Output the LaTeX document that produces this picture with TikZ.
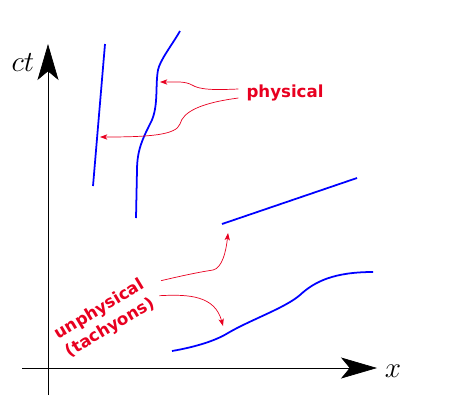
\documentclass[tikz,border=0pt]{standalone}
\usepackage{fontspec}
\setsansfont{DejaVu Sans}
\usepackage{tikz}
\usetikzlibrary{arrows.meta}
\usepackage{xcolor}
\definecolor{labelred}{RGB}{232,0,32}

\tikzset{
  worldline/.style={blue, line width=1.5pt},
  axis/.style={black, line width=0.6pt, -{Stealth[length=10.8mm, width=6.3mm, inset=2.6mm]}},
  note/.style={labelred, font=\sffamily\bfseries\fontsize{14.2}{18}\selectfont, align=center, inner sep=1pt},
  pointer/.style={labelred, line width=0.6pt, ->},
}

\begin{document}
\begin{tikzpicture}[x=0.03cm, y=-0.03cm, >={Stealth[length=2.2mm, width=1.6mm, inset=0.6mm]}]
  \useasboundingbox (0,0) rectangle (459,412);
  % axes
  \draw[axis] (48,395) -- (48,44);
  \draw[axis] (22,368) -- (377,368);
  \node (ct) at (23,63) {\fontsize{24}{29}\selectfont$ct$};
  \node (xl) at (393,371) {\fontsize{24}{29}\selectfont$x$};
  % world lines
  \draw[worldline] (105,44) -- (93,186);
  \draw[worldline] (180,31) .. controls (172,45) and (160,60) .. (158,70)
    .. controls (155,86) and (159,108) .. (150,124)
    .. controls (143,138) and (137,150) .. (137,170) -- (136,218);
  \draw[worldline] (222,224) -- (357,178);
  \draw[worldline] (172,351) .. controls (195,347) and (215,341) .. (228,333)
    .. controls (250,320) and (285,308) .. (300,295)
    .. controls (315,281) and (335,272) .. (373,272);
  \coordinate (hitA) at (160,82);
  \coordinate (hitB) at (100,137);
  \coordinate (hitC) at (228,233);
  \coordinate (hitD) at (223,326);
  % labels
  \node[note] (phys) at (285,93) {physical};
  \node[note, rotate=31] (unph) at (105,319) {unphysical\\(tachyons)};
  \draw[pointer] ([xshift=-0.2cm, yshift=0.12cm]phys.west) .. controls (215,90) and (200,90) .. (192,85)
    .. controls (185,81) and (175,82) .. (hitA);
  \draw[pointer] ([xshift=-0.2cm, yshift=-0.15cm]phys.west) .. controls (200,103) and (183,112) .. (180,124)
    .. controls (176,135) and (150,137) .. (hitB);
  \draw[pointer] ([xshift=0.35cm, yshift=0.35cm]unph.east) .. controls (185,275) and (200,272) .. (213,270)
    .. controls (222,268) and (226,252) .. (hitC);
  \draw[pointer] ([xshift=0.3cm, yshift=-0.1cm]unph.east) .. controls (190,294) and (215,296) .. (hitD);
\end{tikzpicture}
\end{document}
